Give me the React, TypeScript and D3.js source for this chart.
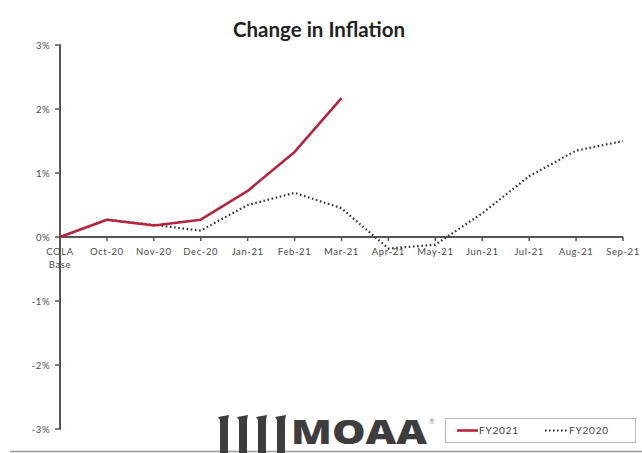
import React from "react";
import * as d3 from "d3";

const categories = ["COLA Base", "Oct-20", "Nov-20", "Dec-20", "Jan-21", "Feb-21", "Mar-21", "Apr-21", "May-21", "Jun-21", "Jul-21", "Aug-21", "Sep-21"];
const fy2021 = [0, 0.27, 0.18, 0.27, 0.72, 1.33, 2.17];
const fy2020 = [0, 0.27, 0.19, 0.1, 0.5, 0.69, 0.45, -0.18, -0.12, 0.37, 0.95, 1.35, 1.5];
const yTicks = [3, 2, 1, 0, -1, -2, -3];
const title = "Change in Inflation";
const seriesNames = ["FY2021", "FY2020"];

const W = 642, H = 453;
const x = d3.scalePoint<string>().domain(categories).range([60, 623]);
const y = d3.scaleLinear().domain([-3, 3]).range([429, 45]);

const line = d3.line<number>().x((_, i) => x(categories[i]) as number).y((d) => y(d));

const axisColor = "#555";
const labelColor = "#4a4a4a";
const redColor = "#b3263d";
const dotColor = "#333";
const font = "Lato, 'Open Sans', sans-serif";

export default function App() {
  return (
    <svg width={W} height={H} style={{ position: "absolute", left: 0, top: 0, background: "#fff" }} fontFamily={font}>
      <rect x={0} y={0} width={W} height={H} fill="#fff" />
      <text x={319} y={37} textAnchor="middle" fontSize={20.5} fontWeight={700} fill="#222">{title}</text>
      {/* bottom frame line */}
      <line x1={10} x2={W} y1={451.5} y2={451.5} stroke="#999" strokeWidth={1.5} />

      {/* y axis */}
      <line x1={60} x2={60} y1={y(3)} y2={y(-3)} stroke={axisColor} strokeWidth={2} />
      {yTicks.map((t) => (
        <g key={t}>
          <line x1={55} x2={61} y1={y(t)} y2={y(t)} stroke={axisColor} strokeWidth={1.5} />
          <text x={50} y={y(t) + 3.5} textAnchor="end" fontSize={9.5} fill={labelColor} letterSpacing={0.5}>{t + "%"}</text>
        </g>
      ))}

      {/* x axis */}
      <line x1={60} x2={623} y1={y(0)} y2={y(0)} stroke={axisColor} strokeWidth={2} />
      {categories.map((c) => {
        const px = x(c) as number;
        const parts = c.split(" ");
        return (
          <g key={c}>
            <line x1={px} x2={px} y1={y(0)} y2={y(0) + 4} stroke={axisColor} strokeWidth={1.5} />
            {parts.map((p, j) => (
              <text key={j} x={px} y={y(0) + 18 + j * 13} textAnchor="middle" fontSize={9.5} fill={labelColor} letterSpacing={0.6}>{p}</text>
            ))}
          </g>
        );
      })}

      {/* series */}
      <path d={line(fy2020) || ""} fill="none" stroke={dotColor} strokeWidth={2.2} strokeDasharray="1.6 2.6" />
      <path d={line(fy2021) || ""} fill="none" stroke={redColor} strokeWidth={2.6} strokeLinejoin="round" />

      {/* logo */}
      <g fill="#3d3d3d">
        {[218, 237, 256, 275].map((bx) => (
          <path key={bx} d={`M${bx},417 L${bx + 11},415 L${bx + 10},420 L${bx + 10},453 L${bx + 2},453 L${bx + 2},420 Z`} />
        ))}
        <text x={291} y={444} fontSize={34} fontWeight={800} fontFamily="'Open Sans', sans-serif" textLength={136} lengthAdjust="spacingAndGlyphs">MOAA</text>
        <text x={429} y={424} fontSize={7} fill="#888">®</text>
      </g>

      {/* legend */}
      <rect x={445.5} y={418.5} width={190} height={24} fill="#fff" stroke="#bbb" strokeWidth={1} />
      <line x1={457} x2={478} y1={430.5} y2={430.5} stroke={redColor} strokeWidth={2.6} />
      <text x={479} y={434} fontSize={10} fill="#444" letterSpacing={0.8}>{seriesNames[0]}</text>
      <line x1={545} x2={568} y1={430.5} y2={430.5} stroke={dotColor} strokeWidth={2} strokeDasharray="1.6 2.4" />
      <text x={569} y={434} fontSize={10} fill="#444" letterSpacing={0.8}>{seriesNames[1]}</text>
    </svg>
  );
}
